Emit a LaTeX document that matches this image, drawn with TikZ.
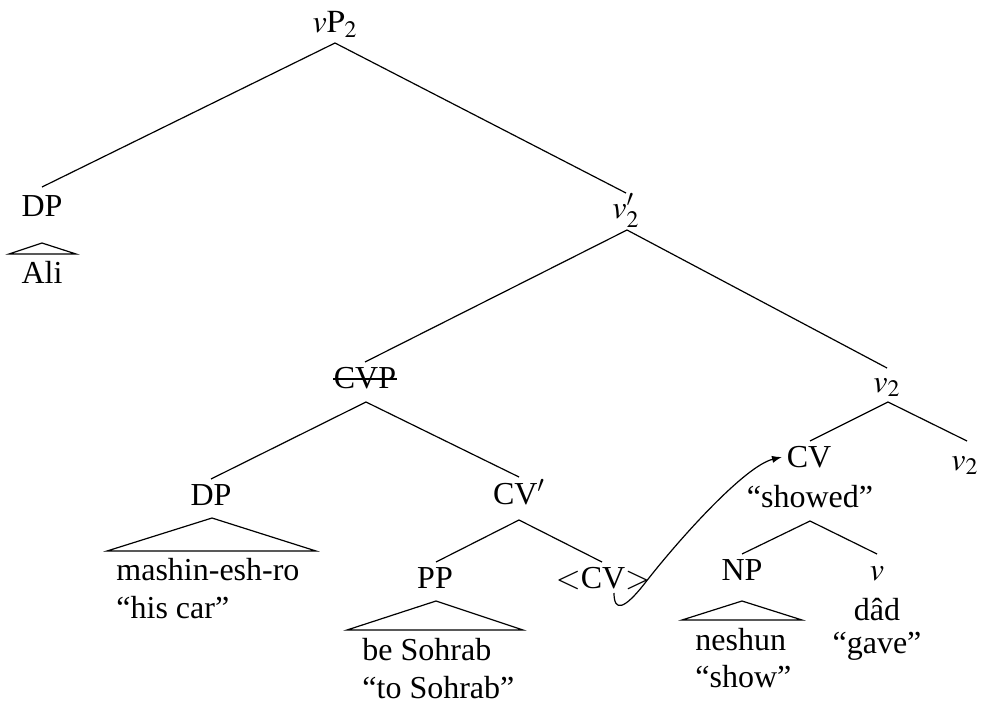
\documentclass[tikz,border=0pt]{standalone}
\usepackage{mathptmx}
\usepackage{fontspec}
\setmainfont{Liberation Serif}
\usetikzlibrary{calc,arrows.meta}
\begin{document}
\begin{tikzpicture}[x=0.5pt,y=-0.5pt,
  lab/.style={inner sep=0pt, anchor=base, font=\fontsize{16}{19}\selectfont},
  txt/.style={inner sep=0pt, anchor=base west, font=\fontsize{16}{19}\selectfont},
  branch/.style={line width=0.6pt},
  move/.style={line width=0.6pt, -{Latex[length=5pt,width=3.6pt]}}]
\useasboundingbox (0,0) rectangle (984,706);

% labels of the tree
\node[lab] (vp) at (335,33) {$v\mathrm{P}_2$};
\node[lab] (dpa) at (42,216) {DP};
\node[lab] (ali) at (42,283) {Ali};
\node[lab] (vbar) at (626,218) {$v'_2$};
\node[lab] (cvp) at (365,388) {CVP};
\node[lab] (vtwo) at (887,392) {$v_2$};
\node[lab] (dpb) at (211,505) {DP};
\node[txt] (mashin) at (116,580) {mashin-esh-ro};
\node[txt] (hiscar) at (116,618) {“his car”};
\node[lab] (cvbar) at (519,504) {CV$'$};
\node[lab] (pp) at (435,588) {PP};
\node[txt] (beso) at (362,660) {be Sohrab};
\node[txt] (toso) at (362,698) {“to Sohrab”};
\node[lab] (cvt) at (603,588) {$<$CV$>$};
\node[lab] (cv) at (809,467) {CV};
\node[lab] (showed) at (810,507) {“showed”};
\node[lab] (vtwob) at (965,470) {$v_2$};
\node[lab] (np) at (742,580) {NP};
\node[txt] (neshun) at (695,650) {neshun};
\node[txt] (show) at (695,687) {“show”};
\node[lab] (vsm) at (877,580) {$v$};
\node[lab] (dad) at (877,620) {dâd};
\node[lab] (gave) at (877,653) {“gave”};

% branches
\draw[branch] ($(vp.base)+(0,10)$) -- ($(dpa.base)+(0,-29)$);
\draw[branch] ($(vp.base)+(0,10)$) -- ($(vbar.base)+(0,-25)$);
\draw[branch] ($(vbar.base)+(1,12)$) -- ($(cvp.base)+(0,-26)$);
\draw[branch] ($(vbar.base)+(1,12)$) -- ($(vtwo.base)+(0,-24)$);
\draw[branch] ($(cvp.base)+(1,14)$) -- ($(dpb.base)+(0,-26)$);
\draw[branch] ($(cvp.base)+(1,14)$) -- ($(cvbar.base)+(0,-27)$);
\draw[branch] ($(cvbar.base)+(0,16)$) -- ($(pp.base)+(1,-26)$);
\draw[branch] ($(cvbar.base)+(0,16)$) -- ($(cvt.base)+(-1,-26)$);
\draw[branch] ($(vtwo.base)+(1,10)$) -- ($(cv.base)+(1,-26)$);
\draw[branch] ($(vtwo.base)+(1,10)$) -- ($(vtwob.base)+(2,-29)$);
\draw[branch] ($(showed.base)+(0,14)$) -- ($(np.base)+(0,-26)$);
\draw[branch] ($(showed.base)+(0,14)$) -- ($(vsm.base)+(0,-26)$);

% struck-out label
\draw[branch] ($(cvp.base west)+(0,-9)$) -- ($(cvp.base east)+(0,-9)$);

% triangles over unanalysed phrases
\draw[branch] ($(dpa.base)+(0,27)$) -- ($(ali.base)+(-33,-29)$) -- ($(ali.base)+(34,-29)$) -- cycle;
\draw[branch] ($(dpb.base)+(1,13)$) -- ($(dpb.base)+(-104,46)$) -- ($(dpb.base)+(105,46)$) -- cycle;
\draw[branch] ($(pp.base)+(1,13)$) -- ($(pp.base)+(-88,42)$) -- ($(pp.base)+(88,42)$) -- cycle;
\draw[branch] ($(np.base)+(0,21)$) -- ($(np.base)+(-60,40)$) -- ($(np.base)+(60,40)$) -- cycle;

% head movement
\draw[move] ($(cvt.base)+(11,5)$) .. controls +(0,19) and +(-21,27) .. ++(31,-10)
  .. controls +(35,-45) and +(-37,9) .. ($(cv.base)+(-27,-10)$);
\end{tikzpicture}
\end{document}
